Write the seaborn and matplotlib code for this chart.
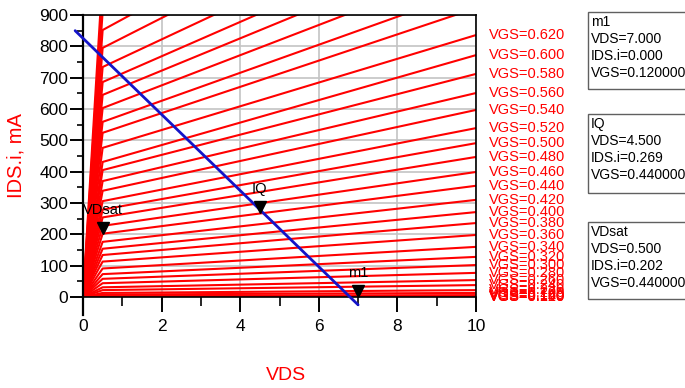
import matplotlib
matplotlib.use("Agg")
import matplotlib.pyplot as plt
import matplotlib.transforms as mtransforms
from matplotlib.patches import Rectangle
import numpy as np
import pandas as pd
import seaborn as sns

# VGS sweep values of the family of IDS-VDS curves
vgs = [0.12, 0.14, 0.16, 0.18, 0.20, 0.22, 0.24, 0.26, 0.28, 0.30,
       0.32, 0.34, 0.36, 0.38, 0.40, 0.42, 0.44, 0.46, 0.48, 0.50,
       0.52, 0.54, 0.56, 0.58, 0.60, 0.62, 0.64, 0.66, 0.68, 0.70,
       0.72, 0.74, 0.76, 0.78, 0.80, 0.82, 0.84]

# points along every curve: origin, saturation knee, end of sweep
vds_points = [0.0, 0.5, 10.0]
# IDS (mA) at VDS=0.5 (knee) and VDS=10 (end)
ids_knee = [0, 0.5, 2, 4, 8, 13, 22, 31, 44, 58,
            73, 91, 113, 134, 154, 176, 202, 227, 254, 279,
            306, 339, 370, 405, 431, 476, 524, 559, 603, 645,
            686, 734, 795, 852, 910, 970, 1030]
ids_end = [0, 1, 3, 6, 13, 22, 38, 54, 77, 102,
           128, 160, 198, 236, 271, 310, 355, 399, 447, 491,
           539, 597, 651, 712, 772, 836, 922, 984, 1061, 1135,
           1207, 1292, 1399, 1500, 1600, 1700, 1800]

# load line
load_vds = [-0.2, 7.0]
load_ids = [850, -25]

# markers
marker_names = ["m1", "IQ", "VDsat"]
marker_vds = [7.0, 4.5, 0.5]
marker_ids = [0.0, 269, 202]
marker_vgs = [0.12, 0.44, 0.44]

x_ticks = [0, 2, 4, 6, 8, 10]
y_ticks = [0, 100, 200, 300, 400, 500, 600, 700, 800, 900]

# long table for seaborn
rows = []
for v, k, e in zip(vgs, ids_knee, ids_end):
    for x, y in zip(vds_points, [0.0, k, e]):
        rows.append({"VGS": v, "VDS": x, "IDS": y})
df = pd.DataFrame(rows)

sns.set_style("white")
plt.rcParams["font.family"] = ["Liberation Sans", "DejaVu Sans"]

fig = plt.figure(figsize=(6.85, 3.88), dpi=100)
ax = fig.add_axes([83 / 685, 1 - 297 / 388, (476 - 83) / 685, (297 - 15) / 388])

ax.set_xlim(0, 10)
ax.set_ylim(0, 900)
ax.set_xticks(x_ticks)
ax.set_yticks(y_ticks)
ax.set_xticks(np.arange(0, 11, 1), minor=True)
ax.set_yticks(np.arange(0, 901, 50), minor=True)
ax.grid(True, which="major", color="#c4c4c4", linewidth=1.2, zorder=0)
ax.set_axisbelow(True)

sns.lineplot(data=df, x="VDS", y="IDS", hue="VGS", units="VGS", estimator=None,
             palette=["#ff0000"] * len(vgs), legend=False, linewidth=1.5, ax=ax)
ax.set_xlabel("")
ax.set_ylabel("")

ax.plot(load_vds, load_ids, color="#1414c8", linewidth=2.0, clip_on=False, zorder=4)

# markers: triangle tip on the point, name above it
tri = mtransforms.offset_copy(ax.transData, fig=fig, x=0, y=4, units="points")
for name, x, y in zip(marker_names, marker_vds, marker_ids):
    ax.plot([x], [y], marker="v", color="black", markersize=8, transform=tri,
            clip_on=False, zorder=5)
    ax.annotate(name, (x, y), xytext=(0, 12), textcoords="offset points",
                ha="center", va="bottom", fontsize=10.5, color="black",
                annotation_clip=False, zorder=5)

# VGS labels at the end of each visible curve
for v, e in zip(vgs, ids_end):
    if e <= 900:
        ax.annotate(f"VGS={v:.3f}", (10, e), xytext=(9, 0), textcoords="offset points",
                    ha="left", va="center", fontsize=10.5, color="#ff0000",
                    annotation_clip=False)

for side in ["left", "right", "top", "bottom"]:
    ax.spines[side].set_visible(True)
    ax.spines[side].set_color("black")
    ax.spines[side].set_linewidth(1.2)
ax.spines["left"].set_linewidth(1.6)
ax.spines["left"].set_bounds(-57, 900)

ax.tick_params(axis="x", which="major", direction="out", length=11, width=1.4,
               labelsize=12.5, pad=5, colors="black", bottom=True)
ax.tick_params(axis="x", which="minor", direction="out", length=6.5, width=1.4, bottom=True)
ax.tick_params(axis="y", which="major", direction="out", length=9.5, width=1.4,
               labelsize=12.5, pad=1, colors="black", left=True)
ax.tick_params(axis="y", which="minor", direction="out", length=4.5, width=1.4, left=True)

fig.text(286 / 685, 1 - 375 / 388, "VDS", color="#ff0000", fontsize=14,
         ha="center", va="center")
fig.text(16 / 685, 1 - 156 / 388, "IDS.i, mA", color="#ff0000", fontsize=14.5,
         ha="center", va="center", rotation=90)

# marker readout boxes on the right
box_tops = [12, 114, 222]
box_bottoms = [89, 193, 299]
for name, x, y, g, top, bot in zip(marker_names, marker_vds, marker_ids, marker_vgs,
                                   box_tops, box_bottoms):
    fig.patches.append(Rectangle((588 / 685, 1 - bot / 388), 0.3, (bot - top) / 388,
                                 transform=fig.transFigure, fill=False,
                                 edgecolor="#606060", linewidth=1.0))
    txt = f"{name}\nVDS={x:.3f}\nIDS.i={y / 1000:.3f}\nVGS={g:.6f}"
    fig.text(591 / 685, 1 - (top + 3) / 388, txt, fontsize=10, color="black",
             ha="left", va="top", linespacing=1.27)

fig.savefig("out.png", dpi=100)
